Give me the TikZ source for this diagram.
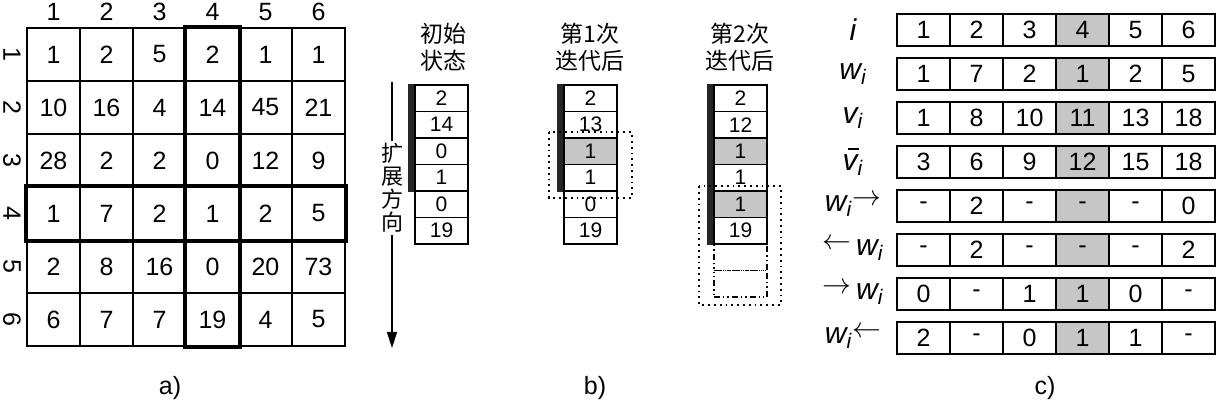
\documentclass[tikz,border=0pt]{standalone}
\usepackage{fontspec}
\setmainfont{Liberation Sans}
\newfontfamily\cjk{Noto Sans CJK SC}
\usetikzlibrary{arrows.meta,positioning}

\newcommand\wsub{{\itshape w}\textsubscript{\itshape i}}
\newcommand\vsub{{\itshape v}\textsubscript{\itshape i}}
\newcommand\vbarsub{\rlap{\kern0.17em\rule[0.68em]{0.38em}{0.06em}}{\itshape v}\textsubscript{\itshape i}}
\newcommand\fleched{\raisebox{0.2em}{$\rightarrow$}}
\newcommand\flecheg{\raisebox{0.2em}{$\leftarrow$}}

\tikzset{
  cellule/.style={draw, line width=0.75pt, minimum width=26.5pt, minimum height=26.5pt,
    inner sep=0pt, font=\fontsize{12.5}{14}\selectfont},
  celluleb/.style={cellule, minimum height=13.25pt, font=\fontsize{10.5}{12}\selectfont},
  cellulec/.style={cellule, minimum height=16pt},
  vide/.style={dash pattern=on 3pt off 1.5pt on 0.7pt off 1.5pt on 0.7pt off 1.5pt, line width=0.9pt},
  grise/.style={fill=gray!45},
  cadre/.style={line width=2pt},
  barre/.style={fill=black!85},
  pointille/.style={dotted, line width=0.9pt},
  entete/.style={font=\fontsize{12.5}{14}\selectfont},
  titre/.style={font=\cjk\fontsize{11.5}{13.5}\selectfont, align=center},
  etiq/.style={font=\fontsize{15}{17}\selectfont, inner sep=0pt},
  legende/.style={font=\fontsize{12.5}{14}\selectfont}
}

\begin{document}
\begin{tikzpicture}[x=0.5pt,y=-0.5pt]
    \useasboundingbox (0,0) rectangle (1216,406);

    % Grille a)
    \foreach \ligne [count=\r] in {{1,2,5,2,1,1},{10,16,4,14,45,21},{28,2,2,0,12,9},
                                   {1,7,2,1,2,5},{2,8,16,0,20,73},{6,7,7,19,4,5}}{
        \foreach \val [count=\c] in \ligne
            \node[cellule] (a-\r-\c) at ({53.5+53*(\c-1)},{54.5+53*(\r-1)}) {\val};
    }
    \foreach \c in {1,...,6}
        \node[entete] (a-col-\c) at ({53.5+53*(\c-1)},12) {\c};
    \foreach \r in {1,...,6}
        \node[entete, rotate=-90] (a-lig-\r) at (12,{54.5+53*(\r-1)}) {\r};

    % Ligne et colonne 4
    \draw[cadre] (a-1-4.north west) rectangle (a-6-4.south east);
    \draw[cadre] (a-4-1.north west) rectangle (a-4-6.south east);
    \node[legende] (a-leg) at (170,388) {a)};

    % Colonnes b)
    \foreach \val/\st [count=\k] in {2/,14/,0/,1/,0/,19/}
        \node[celluleb,\st] (b1-\k) at (441.5,{98.25+26.5*(\k-1)}) {\val};
    \foreach \val/\st [count=\k] in {2/,13/,1/grise,1/,0/,19/}
        \node[celluleb,\st] (b2-\k) at (590.5,{98.25+26.5*(\k-1)}) {\val};
    \foreach \val/\st [count=\k] in {2/,12/,1/grise,1/,1/grise,19/}
        \node[celluleb,\st] (b3-\k) at (740.5,{98.25+26.5*(\k-1)}) {\val};
    \foreach \k in {7,8}
        \node[celluleb,vide] (b3-\k) at (740.5,{98.25+26.5*(\k-1)}) {};

    % Barres
    \fill[barre] ([xshift=-3pt]b1-1.north west) rectangle (b1-4.south west);
    \fill[barre] ([xshift=-3pt]b2-1.north west) rectangle (b2-4.south west);
    \fill[barre] ([xshift=-3pt]b3-1.north west) rectangle (b3-6.south west);

    % Cadres pointilles
    \draw[pointille] ([xshift=-7pt,yshift=2.5pt]b2-3.north west) rectangle ([xshift=7pt,yshift=-3pt]b2-4.south east);
    \draw[pointille] ([xshift=-7pt,yshift=2pt]b3-5.north west) rectangle ([xshift=6.5pt,yshift=-3.5pt]b3-8.south east);

    % Titres
    \node[titre] (b1-titre) at (443,47) {初始\\状态};
    \node[titre] (b2-titre) at (590,47) {第1次\\迭代后};
    \node[titre] (b3-titre) at (740,47) {第2次\\迭代后};

    % Sens d'extension
    \coordinate (fl-haut) at (392,82);
    \coordinate (fl-bas) at (392,348);
    \node[titre, font=\cjk\fontsize{11}{11.5}\selectfont, fill=white, inner sep=1pt] (sens) at (392,188) {扩\\展\\方\\向};
    \draw[line width=0.75pt] (fl-haut) -- (sens);
    \draw[line width=0.75pt, -{Triangle[length=8pt,width=5pt]}] (sens) -- (fl-bas);
    \node[legende] (b-leg) at (595,388) {b)};

    % Tableau c)
    \foreach \lab [count=\r] in {{\itshape i},\wsub,\vsub,\vbarsub,{\wsub\fleched},
                                 {\flecheg\,\wsub},{\fleched\,\wsub},{\wsub\flecheg}}
        \node[etiq] (c-lab-\r) at (853,{30+44*(\r-1)}) {\lab};
    \foreach \ligne [count=\r] in {{1,2,3,4,5,6},{1,7,2,1,2,5},{1,8,10,11,13,18},{3,6,9,12,15,18},
                                   {-,2,-,-,-,0},{-,2,-,-,-,2},{0,-,1,1,0,-},{2,-,0,1,1,-}}{
        \foreach \val [count=\c] in \ligne {
            \ifnum\c=4 \def\st{grise}\else\def\st{}\fi
            \node[cellulec,\st] (c-\r-\c) at ({923.5+53*(\c-1)},{30+44*(\r-1)}) {\val};
        }
    }
    \node[legende] (c-leg) at (1045,388) {c)};
\end{tikzpicture}
\end{document}
